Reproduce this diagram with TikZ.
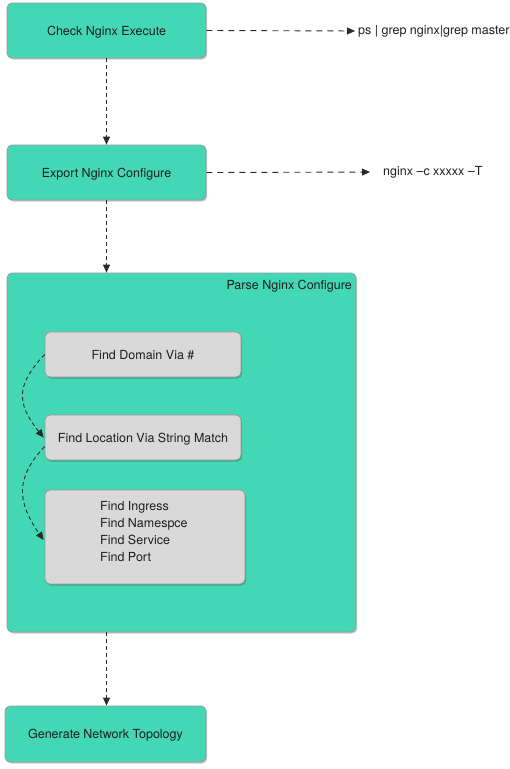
\documentclass[tikz,border=0pt]{standalone}
\usepackage{fontspec}
\setmainfont{TeX Gyre Heros}
\usetikzlibrary{arrows.meta,shadows}
\definecolor{teal}{HTML}{44D7B6}
\definecolor{inner}{HTML}{D9D9D9}
\definecolor{edge}{HTML}{999999}
\definecolor{ink}{HTML}{1E1E1E}
\definecolor{line}{HTML}{2A2A2A}
\tikzset{
  base/.style={rectangle, rounded corners=5pt, draw=edge, line width=0.8pt, inner sep=0pt,
    text=ink, font=\fontsize{12.5}{17}\selectfont, text depth=0pt,
    drop shadow={shadow xshift=1.2pt, shadow yshift=-1.5pt, fill=black, opacity=0.22}},
  stepbox/.style={base, fill=teal},
  subbox/.style={base, fill=inner},
  lbl/.style={text=ink, font=\fontsize{12.5}{17}\selectfont, inner sep=0pt},
  hflow/.style={draw=line, line width=0.9pt, dash pattern=on 6pt off 5pt, -{Triangle[length=8pt,width=7pt]}},
  vflow/.style={draw=line, line width=0.9pt, dash pattern=on 4pt off 3pt, -{Triangle[length=8pt,width=7pt]}},
}
\begin{document}
\begin{tikzpicture}[x=1pt,y=-1pt]
\useasboundingbox (0,0) rectangle (510,769);
\node[stepbox, minimum width=199pt, minimum height=55pt] (c1) at (106.5,30.5) {Check Nginx Execute};
\node[stepbox, minimum width=199pt, minimum height=55pt] (c2) at (106.5,172.5) {Export Nginx Configure};
\node[stepbox, minimum width=349pt, minimum height=359pt] (big) at (181.5,452.5) {};
\node[lbl, anchor=east] (bigl) at (352,286) {Parse Nginx Configure};
\node[subbox, minimum width=196pt, minimum height=45pt] (d1) at (143,354.5) {Find Domain Via \#};
\node[subbox, minimum width=196pt, minimum height=45pt] (d2) at (143,437.5) {Find Location Via String Match};
\node[subbox, minimum width=200pt, minimum height=94pt] (d3) at (145,537) {};
\node[lbl, anchor=west, align=left] (d3t) at (100,531.5) {Find Ingress\\Find Namespce\\Find Service\\Find Port};
\node[stepbox, minimum width=201pt, minimum height=56pt] (gen) at (105.5,734) {Generate Network Topology};
\node[lbl, anchor=west] (t1) at (358,31) {ps | grep nginx|grep master};
\node[lbl, anchor=west] (t2) at (383,172) {nginx –c xxxxx –T};
\draw[hflow, shorten >=3pt] (c1.east) -- (t1.west);
\draw[hflow, shorten >=13pt] (c2.east) -- (t2.west);
\draw[vflow] (c1.south) -- (c2.north);
\draw[vflow] (c2.south) -- (c2.south |- big.north);
\draw[vflow] (c2.south |- big.south) -- (c2.south |- gen.north);
\draw[vflow] (d1.west) .. controls +(-28,30) and +(-28,-35) .. ([xshift=-1pt]d2.west);
\draw[vflow] ([yshift=-9pt]d2.west) .. controls +(-28,30) and +(-28,-40) .. ([xshift=-1pt,yshift=-3pt]d3.west);
\end{tikzpicture}
\end{document}
